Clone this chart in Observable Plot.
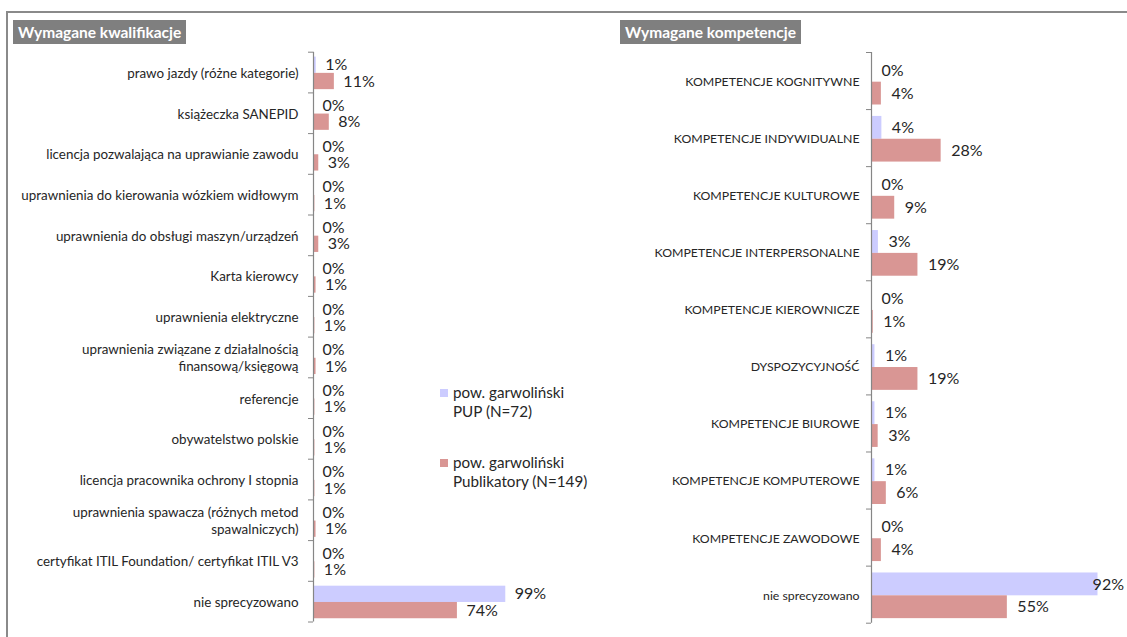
<!DOCTYPE html>
<html><head><meta charset="utf-8">
<script src="https://cdn.jsdelivr.net/npm/d3@7"></script>
<script src="https://cdn.jsdelivr.net/npm/@observablehq/plot@0.6"></script>
<style>
html,body{margin:0;padding:0;background:#fff;}
#root{position:relative;width:1127px;height:637px;overflow:hidden;font-family:Lato,"Open Sans",sans-serif;background:#fff;}
.frame{position:absolute;left:6px;top:11px;width:1300px;height:800px;border-top:2px solid #8a8a8a;border-left:2px solid #8a8a8a;}
.title{position:absolute;top:20px;height:24px;background:#7f7f7f;color:#fff;font-weight:bold;font-size:15.5px;line-height:24px;padding:0 5px;white-space:nowrap;}
.panel{position:absolute;top:0;}
.legend{position:absolute;left:440px;top:383px;font-size:15.2px;line-height:19px;color:#262626;}
.legend .item{position:relative;padding-left:13px;margin-bottom:32px;}
.legend .sw{position:absolute;left:0;top:6px;width:8px;height:8px;}
</style>
</head><body>
<div id="root">
  <div class="frame"></div>
  <div class="title" style="left:13px;">Wymagane kwalifikacje</div>
  <div class="title" style="left:620px;">Wymagane kompetencje</div>
  <div class="panel" id="left" style="left:0px;"></div>
  <div class="panel" id="right" style="left:560px;"></div>
  <div class="legend" id="legend"></div>
</div>
<script>
const qualCategories = [
  "prawo jazdy (różne kategorie)",
  "książeczka SANEPID",
  "licencja pozwalająca na uprawianie zawodu",
  "uprawnienia do kierowania wózkiem widłowym",
  "uprawnienia do obsługi maszyn/urządzeń",
  "Karta kierowcy",
  "uprawnienia elektryczne",
  "uprawnienia związane z działalnością\nfinansową/księgową",
  "referencje",
  "obywatelstwo polskie",
  "licencja pracownika ochrony I stopnia",
  "uprawnienia spawacza (różnych metod\nspawalniczych)",
  "certyfikat ITIL Foundation/ certyfikat ITIL V3",
  "nie sprecyzowano"
];
const qualPUP = [1.4, 0, 0, 0, 0, 0, 0, 0, 0, 0, 0, 0, 0, 98.6];
const qualPub = [10.7, 8.1, 2.7, 0.7, 2.7, 1.3, 0.7, 1.3, 0.7, 0.7, 0.7, 1.3, 0.7, 73.8];

const compCategories = [
  "KOMPETENCJE KOGNITYWNE",
  "KOMPETENCJE INDYWIDUALNE",
  "KOMPETENCJE KULTUROWE",
  "KOMPETENCJE INTERPERSONALNE",
  "KOMPETENCJE KIEROWNICZE",
  "DYSPOZYCYJNOŚĆ",
  "KOMPETENCJE BIUROWE",
  "KOMPETENCJE KOMPUTEROWE",
  "KOMPETENCJE ZAWODOWE",
  "nie sprecyzowano"
];
const compPUP = [0, 4.2, 0, 2.8, 0, 1.4, 1.4, 1.4, 0, 91.7];
const compPub = [4.0, 28.2, 9.4, 18.8, 0.7, 18.8, 2.7, 6.0, 4.0, 55.0];

const seriesNames = ["pow. garwoliński\nPUP (N=72)", "pow. garwoliński\nPublikatory (N=149)"];
const seriesColors = ["#ccccff", "#d99694"];

function rows(cats, a, b) {
  return cats.flatMap((c, i) => [
    {cat: c, i, s: 0, value: a[i]},
    {cat: c, i, s: 1, value: b[i]}
  ]);
}

const START = 0.12;
const HALF = 0.40;
const TXT = "#262626";
const AX = "#868686";

function chart({cats, data, width, height, mt, mb, ml, mr, labelPad, labelSize, dx, fitAbove, fitDx}) {
  const n = cats.length;
  const inside = data.filter(d => d.value <= fitAbove);
  const outside = data.filter(d => d.value > fitAbove);
  const yMid = d => d.i + START + (d.s + 0.5) * HALF;
  return Plot.plot({
    width, height,
    marginTop: mt, marginBottom: mb, marginLeft: ml, marginRight: mr,
    style: {fontFamily: "Lato, 'Open Sans', sans-serif", overflow: "visible", background: "transparent"},
    x: {type: "linear", domain: [0, 100], axis: null},
    y: {type: "linear", domain: [0, n], reverse: true, axis: null},
    color: {type: "ordinal", domain: [0, 1], range: seriesColors},
    marks: [
      Plot.rectX(data, {
        x1: 0,
        x2: "value",
        y1: d => d.i + START + d.s * HALF,
        y2: d => d.i + START + (d.s + 1) * HALF,
        fill: "s"
      }),
      Plot.ruleX([0], {stroke: AX, strokeWidth: 1.2}),
      Plot.axisY({ticks: d3.range(n + 1), tickSize: 5, tickFormat: () => "", stroke: AX}),
      Plot.axisY({
        ticks: d3.range(n).map(i => i + 0.5),
        tickSize: 0, tickPadding: labelPad,
        tickFormat: v => cats[Math.floor(v)],
        fontSize: labelSize, fill: TXT, lineHeight: 1.25
      }),
      Plot.text(inside, {
        x: "value", y: yMid,
        text: d => Math.round(d.value) + "%",
        textAnchor: "start", dx, fontSize: 16, fill: TXT
      }),
      Plot.text(outside, {
        x: "value", y: yMid,
        text: d => Math.round(d.value) + "%",
        textAnchor: "end", dx: fitDx, fontSize: 16, fill: TXT
      })
    ]
  });
}

document.getElementById("left").append(chart({
  cats: qualCategories, data: rows(qualCategories, qualPUP, qualPub),
  width: 560, height: 637, mt: 51.7, mb: 15.5, ml: 313, mr: 52,
  labelPad: 15, labelSize: 13.4, dx: 9, fitAbove: 1000, fitDx: 0
}));

document.getElementById("right").append(chart({
  cats: compCategories, data: rows(compCategories, compPUP, compPub),
  width: 567, height: 637, mt: 52, mb: 14.3, ml: 311, mr: 9,
  labelPad: 12, labelSize: 12.3, dx: 10, fitAbove: 85, fitDx: 26
}));

const legend = document.getElementById("legend");
seriesNames.forEach((name, k) => {
  const item = document.createElement("div");
  item.className = "item";
  const sw = document.createElement("div");
  sw.className = "sw";
  sw.style.background = seriesColors[k];
  item.append(sw);
  name.split("\n").forEach(line => {
    const l = document.createElement("div");
    l.textContent = line;
    item.append(l);
  });
  legend.append(item);
});
</script>
</body></html>
